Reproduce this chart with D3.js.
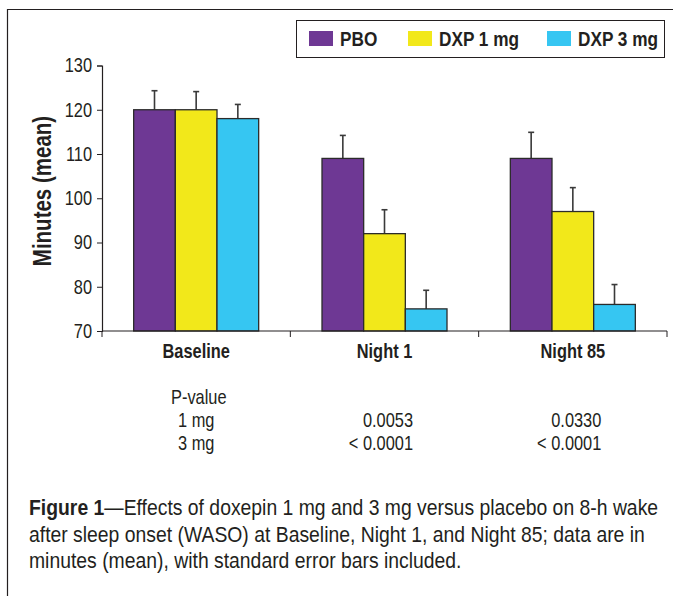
<!DOCTYPE html>
<meta charset="utf-8">
<style>
body { margin: 0; background: #fff; }
text { font-family: "Liberation Sans", Arial, sans-serif; fill: #231f20; }
</style>
<body>
<script src="https://cdn.jsdelivr.net/npm/d3@7"></script>
<script>

// chart data
var categories = ["Baseline", "Night 1", "Night 85"];
var seriesNames = ["PBO", "DXP 1 mg", "DXP 3 mg"];
var pbo  = [120, 109, 109];
var dxp1 = [120, 92, 97];
var dxp3 = [118, 75, 76];
var pboErr  = [4.3, 5.2, 5.9];
var dxp1Err = [4.1, 5.4, 5.4];
var dxp3Err = [3.2, 4.2, 4.5];
var yTicks = [70, 80, 90, 100, 110, 120, 130];
var pLabels = ["P-value", "1 mg", "3 mg"];
var p1mg = ["", "0.0053", "0.0330"];
var p3mg = ["", "< 0.0001", "< 0.0001"];
var caption = [
  ["Figure 1", "\u2014Effects of doxepin 1 mg and 3 mg versus placebo on 8-h wake"],
  ["", "after sleep onset (WASO) at Baseline, Night 1, and Night 85; data are in"],
  ["", "minutes (mean), with standard error bars included."]
];

var colors = ["#6e3894", "#f2e81a", "#36c6f2"];
var values = [pbo, dxp1, dxp3];
var errs = [pboErr, dxp1Err, dxp3Err];
var narrow = 0.82;   // squeeze Arial metrics to look like Arial Narrow

var W = 673, H = 596;
var svg = d3.select("body").append("svg")
    .attr("width", W)
    .attr("height", H);

// narrow text helper
function label(parent, x, y, str, size, bold, anchor, squeeze) {
  return parent.append("text")
    .attr("transform", "translate(" + x + "," + y + ") scale(" + (squeeze || narrow) + ",1)")
    .attr("text-anchor", anchor || "start")
    .style("font-size", size + "px")
    .style("font-weight", bold ? "bold" : "normal")
    .text(str);
}

// outer frame (only left and top edges show)
svg.append("path")
    .attr("d", "M7.5," + H + "V9.5H" + W)
    .attr("fill", "none")
    .attr("stroke", "#231f20")
    .attr("stroke-width", 1.2);

var plotLeft = 102, plotRight = 667, plotTop = 65.5, plotBottom = 331;

var x0 = d3.scaleBand().domain(categories).range([plotLeft, plotRight]).padding(0);
var x1 = d3.scaleBand().domain(seriesNames).range([0, x0.bandwidth()]).paddingInner(0).paddingOuter(0.76);
var y = d3.scaleLinear().domain([70, 130]).range([plotBottom, plotTop]);

var rows = [];
categories.forEach(function(c, i) {
  seriesNames.forEach(function(s, j) {
    rows.push({cat: c, s: s, j: j, v: values[j][i], e: errs[j][i]});
  });
});

// error bars
svg.selectAll(".err")
    .data(rows)
  .enter().append("g")
    .attr("class", "err")
    .each(function(d) {
      var cx = x0(d.cat) + x1(d.s) + x1.bandwidth() / 2;
      var g = d3.select(this);
      g.append("line")
        .attr("x1", cx).attr("x2", cx)
        .attr("y1", y(d.v)).attr("y2", y(d.v + d.e))
        .attr("stroke", "#3a3a3a").attr("stroke-width", 1.6);
      g.append("line")
        .attr("x1", cx - 3).attr("x2", cx + 3)
        .attr("y1", y(d.v + d.e)).attr("y2", y(d.v + d.e))
        .attr("stroke", "#3a3a3a").attr("stroke-width", 1.6);
    });

// bars
svg.selectAll(".bar")
    .data(rows)
  .enter().append("rect")
    .attr("class", "bar")
    .attr("x", function(d) { return x0(d.cat) + x1(d.s); })
    .attr("width", x1.bandwidth())
    .attr("y", function(d) { return y(d.v); })
    .attr("height", function(d) { return y(70) - y(d.v); })
    .attr("fill", function(d) { return colors[d.j]; })
    .attr("stroke", "#2b2b2b")
    .attr("stroke-width", 1.3);

// y axis
var yAxis = svg.append("g")
    .attr("transform", "translate(" + plotLeft + ",0)")
    .call(d3.axisLeft(y).tickValues(yTicks).tickSize(5).tickPadding(5));
yAxis.select(".domain").attr("stroke", "#231f20").attr("stroke-width", 1.2);
yAxis.selectAll(".tick line").attr("stroke", "#231f20");
yAxis.selectAll("text")
    .attr("x", -10 / narrow)
    .attr("transform", "scale(" + narrow + ",1)")
    .style("font-size", "20px")
    .attr("font-family", null)
    .attr("fill", "#231f20");

// x axis with ticks at category edges
svg.append("line")
    .attr("x1", plotLeft).attr("x2", plotRight)
    .attr("y1", plotBottom).attr("y2", plotBottom)
    .attr("stroke", "#231f20").attr("stroke-width", 1.2);
var edges = categories.map(function(c) { return x0(c); }).concat([plotRight]);
svg.selectAll(".xtick")
    .data(edges)
  .enter().append("line")
    .attr("x1", function(d) { return d; }).attr("x2", function(d) { return d; })
    .attr("y1", plotBottom).attr("y2", plotBottom + 6)
    .attr("stroke", "#231f20").attr("stroke-width", 1);

categories.forEach(function(c) {
  label(svg, x0(c) + x0.bandwidth() / 2, 358, c, 20, true, "middle");
});

// y axis title
svg.append("text")
    .attr("text-anchor", "middle")
    .attr("transform", "translate(51,191) rotate(-90) scale(" + narrow + ",1)")
    .style("font-size", "25px")
    .style("font-weight", "bold")
    .text("Minutes (mean)");

// legend
var lg = svg.append("g");
lg.append("rect")
    .attr("x", 296.5).attr("y", 20.5)
    .attr("width", 368).attr("height", 37)
    .attr("fill", "#fff").attr("stroke", "#231f20").attr("stroke-width", 1);
var legX = [309, 408, 547];
seriesNames.forEach(function(s, j) {
  lg.append("rect")
    .attr("x", legX[j]).attr("y", 31)
    .attr("width", 24).attr("height", 15)
    .attr("fill", colors[j]);
  label(lg, legX[j] + 31, 46, s, 21, true);
});

// p-value table
label(svg, 171, 404, pLabels[0], 20);
label(svg, 178, 427, pLabels[1], 20);
label(svg, 178, 450, pLabels[2], 20);
categories.forEach(function(c, i) {
  var cx = x0(c) + x0.bandwidth() / 2 + 28.5;
  label(svg, cx, 427, p1mg[i], 20, false, "end");
  label(svg, cx, 450, p3mg[i], 20, false, "end");
});

// caption
caption.forEach(function(line, i) {
  var t = label(svg, 29, 515 + i * 26.5, "", 22, false, "start", 0.88);
  if (line[0]) t.append("tspan").style("font-weight", "bold").text(line[0]);
  t.append("tspan").text(line[1]);
});

</script>
</body>
